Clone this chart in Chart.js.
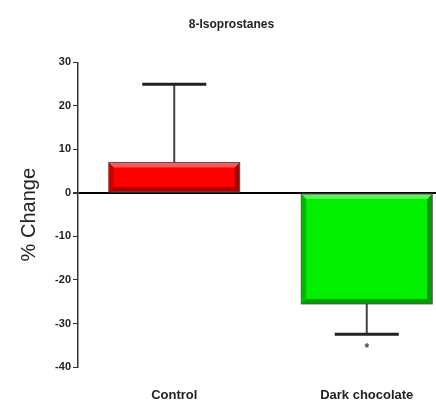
<!DOCTYPE html>
<html>
<head>
<meta charset="utf-8">
<script src="https://cdn.jsdelivr.net/npm/chart.js@4.4.1/dist/chart.umd.min.js"></script>
<style>
  html, body { margin: 0; padding: 0; background: #fff; overflow: hidden; }
  #wrap { width: 470px; height: 402px; }
</style>
</head>
<body>
<div id="wrap"><canvas id="chart" width="470" height="402"></canvas></div>
<script>
// =========================
// DATA
// =========================
const categories = ["Control", "Dark chocolate"];
const meanChange = [7, -25.5];
const errorSize = [18, 7];          // one-sided error bar length
const errorDirection = [1, -1];     // up for control, down for dark chocolate
const significance = ["", "*"];
const barColors = ["#ff0000", "#00f000"];
const edgeColors = ["#b00000", "#00a000"];
const yTicks = [-40, -30, -20, -10, 0, 10, 20, 30];

const FONT = "'Liberation Sans Narrow', 'Liberation Sans', Arial, sans-serif";

// =========================
// PLUGINS
// =========================
const bevelPlugin = {
  id: "bevel",
  afterDatasetsDraw(chart) {
    const c = chart.ctx;
    const meta = chart.getDatasetMeta(0);
    meta.data.forEach((bar, i) => {
      const left = bar.x - bar.width / 2;
      const right = bar.x + bar.width / 2;
      const top = Math.min(bar.y, bar.base);
      const bottom = Math.max(bar.y, bar.base);
      const b = 5;
      c.save();
      c.fillStyle = edgeColors[i];
      // bottom
      c.beginPath();
      c.moveTo(left, bottom); c.lineTo(right, bottom);
      c.lineTo(right - b, bottom - b); c.lineTo(left + b, bottom - b);
      c.closePath(); c.fill();
      // right
      c.beginPath();
      c.moveTo(right, top); c.lineTo(right, bottom);
      c.lineTo(right - b, bottom - b); c.lineTo(right - b, top + b);
      c.closePath(); c.fill();
      // left
      c.globalAlpha = 0.7;
      c.beginPath();
      c.moveTo(left, top); c.lineTo(left, bottom);
      c.lineTo(left + b, bottom - b); c.lineTo(left + b, top + b);
      c.closePath(); c.fill();
      // top highlight
      c.globalAlpha = 0.35;
      c.fillStyle = "#ffffff";
      c.beginPath();
      c.moveTo(left, top); c.lineTo(right, top);
      c.lineTo(right - b, top + b); c.lineTo(left + b, top + b);
      c.closePath(); c.fill();
      c.globalAlpha = 1;
      c.strokeStyle = "#555";
      c.lineWidth = 1;
      c.strokeRect(left, top, right - left, bottom - top);
      c.restore();
    });
  }
};

const errorBarPlugin = {
  id: "errorBars",
  afterDatasetsDraw(chart) {
    const c = chart.ctx;
    const yScale = chart.scales.y;
    const meta = chart.getDatasetMeta(0);
    meta.data.forEach((bar, i) => {
      const end = meanChange[i] + errorDirection[i] * errorSize[i];
      const yEnd = yScale.getPixelForValue(end);
      const yStart = yScale.getPixelForValue(meanChange[i]);
      const half = 32;
      c.save();
      c.strokeStyle = "#444";
      c.lineWidth = 2;
      c.beginPath();
      c.moveTo(bar.x, yStart);
      c.lineTo(bar.x, yEnd);
      c.stroke();
      c.strokeStyle = "#222";
      c.lineWidth = 3;
      c.beginPath();
      c.moveTo(bar.x - half, yEnd);
      c.lineTo(bar.x + half, yEnd);
      c.stroke();
      if (significance[i]) {
        c.fillStyle = "#444";
        c.font = "bold 12px " + FONT;
        c.textAlign = "center";
        c.textBaseline = "top";
        c.fillText(significance[i], bar.x, yEnd + 8);
      }
      c.restore();
    });
  }
};

// =========================
// CHART
// =========================
new Chart(document.getElementById("chart"), {
  type: "bar",
  data: {
    labels: categories,
    datasets: [{
      data: meanChange,
      backgroundColor: barColors,
      borderWidth: 0,
      barPercentage: 0.68,
      categoryPercentage: 1
    }]
  },
  options: {
    responsive: false,
    animation: false,
    layout: { padding: { left: 0, right: 7, top: 0, bottom: 0 } },
    plugins: {
      legend: { display: false },
      tooltip: { enabled: false },
      title: {
        display: true,
        text: "8-Isoprostanes",
        color: "#222",
        font: { family: FONT, size: 12, weight: "bold" },
        padding: { top: 17, bottom: 31 }
      }
    },
    scales: {
      x: {
        afterFit(scale) { scale.height = 35; },
        grid: { display: false },
        border: { display: false },
        ticks: {
          color: "#222",
          padding: 13,
          font: { family: FONT, size: 13, weight: "bold" }
        }
      },
      y: {
        min: -40,
        max: 30,
        afterBuildTicks(scale) {
          scale.ticks = yTicks.map(v => ({ value: v }));
        },
        afterFit(scale) { scale.width = 78; },
        border: { display: true, color: "#333", width: 1.5 },
        grid: {
          drawOnChartArea: true,
          color: ctx => ctx.tick && ctx.tick.value === 0 ? "#000" : "rgba(0,0,0,0)",
          lineWidth: ctx => ctx.tick && ctx.tick.value === 0 ? 2 : 1,
          tickColor: "#333",
          tickLength: 5
        },
        ticks: {
          color: "#222",
          padding: 2,
          font: { family: FONT, size: 11, weight: "bold" }
        },
        title: {
          display: true,
          text: "% Change",
          color: "#222",
          font: { family: FONT, size: 20 },
          padding: { top: 17, bottom: 0 }
        }
      }
    }
  },
  plugins: [bevelPlugin, errorBarPlugin]
});
</script>
</body>
</html>
